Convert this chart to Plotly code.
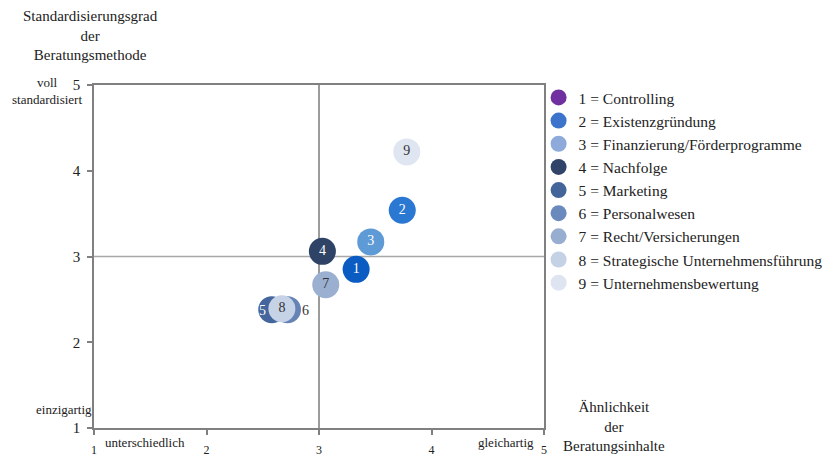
import plotly.graph_objects as go

# Data
ids = ["1", "2", "3", "4", "5", "6", "7", "8", "9"]
names = ["Controlling", "Existenzgründung", "Finanzierung/Förderprogramme", "Nachfolge",
         "Marketing", "Personalwesen", "Recht/Versicherungen",
         "Strategische Unternehmensführung", "Unternehmensbewertung"]
aehnlichkeit = [3.33, 3.74, 3.46, 3.03, 2.58, 2.72, 3.06, 2.67, 3.78]
standardisierung = [2.85, 3.54, 3.17, 3.06, 2.38, 2.38, 2.67, 2.39, 4.22]
x_ticks = [1, 2, 3, 4, 5]
y_ticks = [1, 2, 3, 4, 5]

bubble_colors = ["#0A5CC2", "#2B78D3", "#5D9AD6", "#2E4366", "#44669C",
                 "#6683B6", "#9BB0D1", "#C6D2E6", "#DFE5F1"]
legend_colors = ["#7030A0", "#3C74CC", "#8EAADB", "#2F4468", "#44659A",
                 "#6A89BC", "#98AED0", "#C5D1E5", "#DEE4F0"]
text_colors = ["white", "white", "white", "white", "white", "#333333", "#333333", "#333333", "#333333"]

SERIF = "Liberation Serif, Times New Roman, serif"

fig = go.Figure()

# legend-only entries
for i, (k, n) in enumerate(zip(ids, names)):
    fig.add_trace(go.Scatter(
        x=[None], y=[None], mode="markers",
        marker=dict(size=17, color=legend_colors[i]),
        name=f"{k} = {n}", showlegend=True))

inside_text = [t if t not in ("5", "6") else "" for t in ids]
fig.add_trace(go.Scatter(
    x=aehnlichkeit, y=standardisierung, mode="markers+text",
    marker=dict(size=27, color=bubble_colors, line=dict(width=0), opacity=1),
    text=inside_text, textposition="middle center",
    textfont=dict(family=SERIF, size=14, color=text_colors),
    showlegend=False, hoverinfo="skip"))

# outer labels for 5 and 6
for idx, shift in ((4, -9), (5, 18)):
    fig.add_annotation(x=aehnlichkeit[idx], y=standardisierung[idx], text=ids[idx],
                       showarrow=False, xshift=shift, yshift=-1,
                       font=dict(family=SERIF, size=14, color=text_colors[idx]))

fig.add_shape(type="line", xref="x", yref="y", x0=3, x1=3, y0=1, y1=5,
              line=dict(color="#7a7a7a", width=1.5), layer="below")
fig.add_shape(type="line", xref="x", yref="y", x0=1, x1=5, y0=3, y1=3,
              line=dict(color="#a8a8a8", width=1.5), layer="below")

ann_font = dict(family=SERIF, size=15, color="#222222")
small_font = dict(family=SERIF, size=13, color="#222222")
fig.add_annotation(xref="paper", yref="paper", x=-0.008, y=1.143, xanchor="center", yanchor="middle",
                   text="Standardisierungsgrad<br>der<br>Beratungsmethode", showarrow=False,
                   font=ann_font, align="center")
fig.add_annotation(xref="paper", yref="paper", x=1.156, y=0.003, xanchor="center", yanchor="middle",
                   text="Ähnlichkeit<br>der<br>Beratungsinhalte", showarrow=False,
                   font=ann_font, align="center")
fig.add_annotation(xref="paper", yref="paper", x=-0.104, y=0.982, xanchor="center", yanchor="middle",
                   text="voll<br>standardisiert", showarrow=False, font=small_font, align="center")
fig.add_annotation(xref="paper", yref="paper", x=0.0, y=0.055, xanchor="right", yanchor="middle",
                   text="einzigartig", showarrow=False, font=small_font)
fig.add_annotation(xref="paper", yref="paper", x=0.02, y=-0.041, xanchor="left", yanchor="middle",
                   text="unterschiedlich", showarrow=False, font=small_font)
fig.add_annotation(xref="paper", yref="paper", x=0.982, y=-0.041, xanchor="right", yanchor="middle",
                   text="gleichartig", showarrow=False, font=small_font)

fig.update_layout(
    width=829, height=457,
    margin=dict(l=94, r=285, t=85, b=29, autoexpand=False),
    plot_bgcolor="white", paper_bgcolor="white",
    font=dict(family=SERIF, size=13, color="#222222"),
    legend=dict(x=0.988, y=1.012, xanchor="left", yanchor="top",
                font=dict(family=SERIF, size=15.5, color="#222222"),
                itemsizing="trace", bgcolor="rgba(0,0,0,0)"),
    xaxis=dict(range=[1, 5], tickvals=x_ticks, ticktext=[str(v) for v in x_ticks],
               showgrid=False, zeroline=False, showline=True, linecolor="#808080", linewidth=1.5,
               mirror=True, ticks="outside", ticklen=5, tickcolor="#808080", tickwidth=1.5,
               tickfont=dict(family=SERIF, size=12, color="#222222"), ticklabelstandoff=5,
               automargin=False, fixedrange=True),
    yaxis=dict(range=[1, 5], tickvals=y_ticks, ticktext=[str(v) for v in y_ticks],
               showgrid=False, zeroline=False, showline=True, linecolor="#808080", linewidth=1.5,
               mirror=True, ticks="outside", ticklen=5, tickcolor="#808080", tickwidth=1.5,
               tickfont=dict(family=SERIF, size=15, color="#222222"), ticklabelstandoff=4,
               automargin=False, fixedrange=True),
)

fig.write_html("out.html")
